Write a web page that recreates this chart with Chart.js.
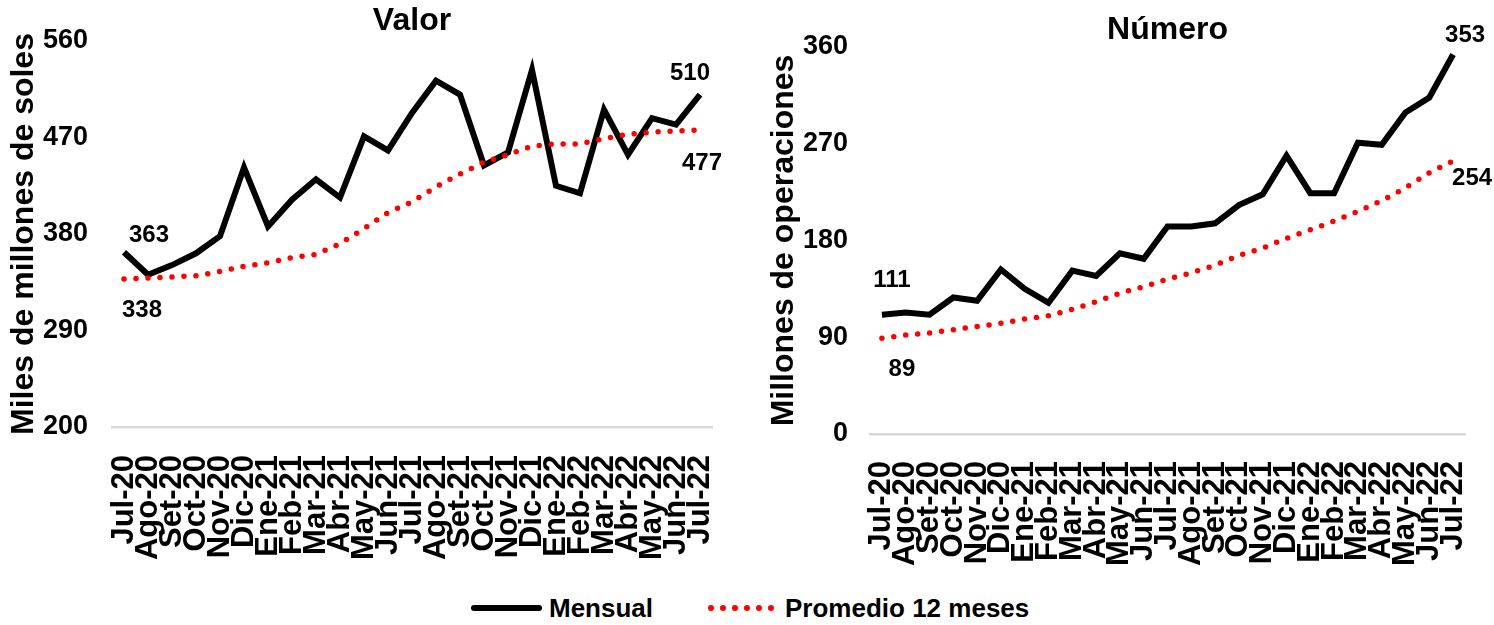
<!DOCTYPE html>
<html>
<head>
<meta charset="utf-8">
<script src="https://cdn.jsdelivr.net/npm/chart.js@4.4.1/dist/chart.umd.min.js"></script>
<style>
    body { margin: 0; background: #fff; width: 1494px; height: 625px; overflow: hidden; position: relative; }
    #valor-box { position: absolute; left: 0; top: 0; width: 740px; height: 590px; }
    #numero-box { position: absolute; left: 760px; top: 0; width: 734px; height: 590px; }
    #legend {
        position: absolute; left: 471px; top: 590px; height: 36px;
        display: flex; align-items: center;
        font: bold 26px "Liberation Sans", Arial, sans-serif;
        color: #000;
    }
    .key-solid { width: 71px; height: 6px; background: #000; border-radius: 3px; margin-right: 7px; }
    .key-dots { width: 66px; height: 0; border-top: 6px dotted #ff0000; margin-left: 55px; margin-right: 11px; }
</style>
</head>
<body>
<div id="valor-box"><canvas id="valor-chart"></canvas></div>
<div id="numero-box"><canvas id="numero-chart"></canvas></div>
<div id="legend">
    <span class="key-solid"></span><span>Mensual</span>
    <span class="key-dots"></span><span>Promedio 12 meses</span>
</div>
<script>
// months on the x axis
const months = ["Jul-20", "Ago-20", "Set-20", "Oct-20", "Nov-20", "Dic-20", "Ene-21", "Feb-21",
    "Mar-21", "Abr-21", "May-21", "Jun-21", "Jul-21", "Ago-21", "Set-21", "Oct-21", "Nov-21",
    "Dic-21", "Ene-22", "Feb-22", "Mar-22", "Abr-22", "May-22", "Jun-22", "Jul-22"];

// Valor (miles de millones de soles)
const valorMensual = [363, 342, 351, 362, 378, 442, 387, 412, 431, 414, 471, 458, 493,
    523, 510, 444, 456, 533, 425, 418, 496, 454, 488, 482, 510];
const valorPromedio = [338, 339, 340, 341, 345, 350, 353, 358, 361, 371, 385, 400, 410,
    424, 436, 447, 454, 462, 464, 464, 469, 473, 475, 476, 477];
const valorTicks = [200, 290, 380, 470, 560];

// Numero (millones de operaciones)
const numeroMensual = [111, 113, 111, 127, 124, 153, 135, 122, 152, 147, 168, 163, 193,
    193, 196, 213, 223, 259, 224, 224, 271, 269, 299, 313, 353];
const numeroPromedio = [89, 92, 94, 97, 100, 103, 107, 110, 116, 123, 131, 137, 144,
    150, 157, 166, 173, 182, 190, 198, 207, 217, 229, 243, 254];
const numeroTicks = [0, 90, 180, 270, 360];

// no narrow font here, so plain Liberation Sans for everything
const fam = '"Liberation Sans", Arial, sans-serif';

// writes the value next to the first and last point of a line
const pointLabels = {
    id: 'pointLabels',
    afterDatasetsDraw(chart) {
        const ctx = chart.ctx;
        chart.data.datasets.forEach((ds, i) => {
            if (!ds.tags) return;
            const meta = chart.getDatasetMeta(i);
            ds.tags.forEach(t => {
                const idx = t.first ? 0 : ds.data.length - 1;
                const pt = meta.data[idx];
                ctx.save();
                ctx.font = 'bold 24px ' + fam;
                ctx.fillStyle = '#000';
                ctx.textAlign = 'center';
                ctx.textBaseline = 'middle';
                ctx.fillText(String(ds.data[idx]), pt.x + t.dx, pt.y + t.dy);
                ctx.restore();
            });
        });
    }
};

function makeChart(id, cfg) {
    return new Chart(document.getElementById(id), {
        type: 'line',
        data: {
            labels: months,
            datasets: [{
                label: 'Promedio 12 meses',
                data: cfg.promedio,
                borderColor: '#ff0000',
                borderWidth: 5.5,
                borderDash: [0, 12],
                borderCapStyle: 'round',
                pointRadius: 0,
                tension: 0,
                tags: cfg.promedioTags
            }, {
                label: 'Mensual',
                data: cfg.mensual,
                borderColor: '#000',
                borderWidth: 6,
                pointRadius: 0,
                tension: 0,
                tags: cfg.mensualTags
            }]
        },
        options: {
            responsive: true,
            maintainAspectRatio: false,
            animation: false,
            layout: { padding: { top: 0, right: cfg.padRight, bottom: 0, left: 0 } },
            plugins: {
                legend: { display: false },
                tooltip: { enabled: false },
                title: {
                    display: true,
                    fullSize: false,
                    text: cfg.title,
                    color: '#000',
                    font: { family: fam, size: 32, weight: 'bold', lineHeight: 1 },
                    padding: cfg.titlePad
                }
            },
            scales: {
                x: {
                    offset: true,
                    grid: { display: false },
                    border: { display: true, color: '#d9d9d9', width: 2.5 },
                    ticks: {
                        autoSkip: false,
                        maxRotation: 90,
                        minRotation: 90,
                        padding: cfg.xPad,
                        color: '#000',
                        font: { family: fam, size: 31, weight: 'bold' }
                    },
                    // fixed height, and no extra side room for the last label
                    afterFit: s => {
                        s.height = cfg.xHeight;
                        s.paddingLeft = 0;
                        s.paddingRight = 0;
                    }
                },
                y: {
                    min: cfg.ticks[0],
                    max: cfg.ticks[cfg.ticks.length - 1],
                    afterBuildTicks: s => { s.ticks = cfg.ticks.map(v => ({ value: v })); },
                    grid: { display: false },
                    border: { display: false },
                    ticks: {
                        padding: cfg.yPad,
                        color: '#000',
                        font: { family: fam, size: 27, weight: 'bold' }
                    },
                    title: {
                        display: true,
                        text: cfg.yTitle,
                        color: '#000',
                        padding: { top: 5, bottom: 0 },
                        font: { family: fam, size: 32, weight: 'bold' }
                    },
                    afterFit: s => { s.width = cfg.yWidth; }
                }
            }
        },
        plugins: [pointLabels]
    });
}

makeChart('valor-chart', {
    title: 'Valor',
    yTitle: 'Miles de millones de soles',
    mensual: valorMensual,
    promedio: valorPromedio,
    ticks: valorTicks,
    titlePad: { top: 5, bottom: 4 },
    padRight: 28,
    yWidth: 112,
    yPad: 16,
    xHeight: 163,
    xPad: 20,
    mensualTags: [{ first: true, dx: 25, dy: -17 }, { first: false, dx: -10, dy: -21 }],
    promedioTags: [{ first: true, dx: 18, dy: 31 }, { first: false, dx: 2, dy: 33 }]
});

makeChart('numero-chart', {
    title: 'Número',
    yTitle: 'Millones de operaciones',
    mensual: numeroMensual,
    promedio: numeroPromedio,
    ticks: numeroTicks,
    titlePad: { top: 14, bottom: 1 },
    padRight: 29,
    yWidth: 110,
    yPad: 14,
    xHeight: 156,
    xPad: 19,
    mensualTags: [{ first: true, dx: 10, dy: -34 }, { first: false, dx: 12, dy: -19 }],
    promedioTags: [{ first: true, dx: 20, dy: 31 }, { first: false, dx: 19, dy: 17 }]
});
</script>
</body>
</html>
